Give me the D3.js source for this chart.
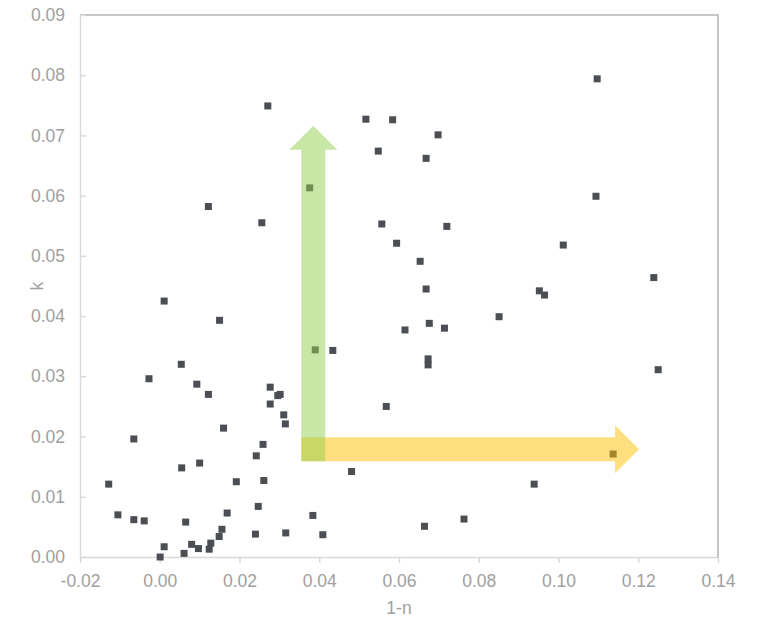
<!DOCTYPE html>
<html>
<head>
<meta charset="utf-8">
<script src="https://cdn.jsdelivr.net/npm/d3@7"></script>
<style>
  html, body { margin: 0; padding: 0; background: #ffffff; }
  svg { display: block; font-family: "Liberation Sans", Arial, sans-serif; }
</style>
</head>
<body>
<svg id="chart" width="762" height="617"></svg>
<script>
// 1-n (horizontal) and k (vertical) for each sample
const oneMinusN = [
  0.0271, 0.0517, 0.0584, 0.0548, 0.0376, 0.0122, 0.0256, 0.0557, 0.0594, 0.0011,
  0.1097, 0.0698, 0.0668, 0.1094, 0.0720, 0.1012, 0.0653, 0.1239, 0.0668, 0.0952,
  0.0965, 0.0150, 0.0390, 0.0434, 0.0054, -0.0027, 0.0093, 0.0122, 0.0277, 0.0296,
  0.0302, 0.0277, 0.0311, 0.0315, 0.0568, 0.0160, -0.0065, 0.0259, 0.0242, 0.0100,
  0.0055, 0.0481, 0.0192, 0.0261, -0.0128, 0.0247, 0.0169, -0.0105, 0.0384, -0.0065,
  -0.0039, 0.0065, 0.0156, 0.0149, 0.0240, 0.0316, 0.0409, 0.0128, 0.0080, 0.0097,
  0.0124, 0.0011, 0.0061, 0.0001, 0.0615, 0.0676, 0.0714, 0.0851, 0.0673, 0.0673,
  0.1250, 0.1137, 0.0939, 0.0763, 0.0664
];
const kValues = [
  0.0749, 0.0727, 0.0726, 0.0674, 0.0613, 0.0582, 0.0555, 0.0553, 0.0521, 0.0425,
  0.0794, 0.0701, 0.0662, 0.0599, 0.0549, 0.0518, 0.0491, 0.0464, 0.0445, 0.0442,
  0.0435, 0.0393, 0.0344, 0.0343, 0.0320, 0.0296, 0.0287, 0.0270, 0.0282, 0.0268,
  0.0270, 0.0254, 0.0236, 0.0221, 0.0250, 0.0214, 0.0196, 0.0187, 0.0168, 0.0156,
  0.0148, 0.0142, 0.0125, 0.0127, 0.0121, 0.0084, 0.0073, 0.0070, 0.0069, 0.0062,
  0.0060, 0.0058, 0.0046, 0.0034, 0.0038, 0.0040, 0.0037, 0.0023, 0.0021, 0.0014,
  0.0013, 0.0017, 0.0006, 0.0000, 0.0377, 0.0388, 0.0380, 0.0399, 0.0329, 0.0319,
  0.0311, 0.0171, 0.0121, 0.0063, 0.0051
];

const xTicks = [-0.02, 0.00, 0.02, 0.04, 0.06, 0.08, 0.10, 0.12, 0.14];
const yTicks = [0.00, 0.01, 0.02, 0.03, 0.04, 0.05, 0.06, 0.07, 0.08, 0.09];
const xTitle = "1-n";
const yTitle = "k";

// Direction arrows, in data units: vertical one along k, horizontal one along 1-n
const kArrow = { x: 0.0385, from: 0.0159, to: 0.0716 };
const nArrow = { y: 0.0179, from: 0.0355, to: 0.1202 };

const svg = d3.select("#chart");
const plotLeft = 80, plotRight = 718, plotTop = 15, plotBottom = 557;

const x = d3.scaleLinear().domain([-0.02, 0.14]).range([plotLeft, plotRight]);
const y = d3.scaleLinear().domain([0, 0.09]).range([plotBottom, plotTop]);

const locale = d3.formatLocale({ decimal: ".", thousands: ",", grouping: [3], currency: ["", ""], minus: "-" });
const fmt = locale.format(".2f");

const labelColor = "#a0a0a0";
const axisColor = "#d9d9d9";
const borderColor = "#b5b5b5";
const fontSize = "17.5px";

// plot area border (top and right edges)
svg.append("path")
  .attr("d", `M${plotLeft},${plotTop}H${plotRight}V${plotBottom}`)
  .attr("fill", "none")
  .attr("stroke", borderColor)
  .attr("stroke-width", 1.6);

// x axis
const gx = svg.append("g")
  .attr("transform", `translate(0,${plotBottom})`)
  .call(d3.axisBottom(x).tickValues(xTicks).tickFormat(fmt).tickSizeInner(6).tickSizeOuter(0).tickPadding(11.5));

// y axis, ticks pointing into the plot
const gy = svg.append("g")
  .attr("transform", `translate(${plotLeft},0)`)
  .call(d3.axisLeft(y).tickValues(yTicks).tickFormat(fmt).tickSizeInner(-6).tickSizeOuter(0).tickPadding(15));

[gx, gy].forEach(g => {
  g.select(".domain").attr("stroke", axisColor).attr("stroke-width", 1.4);
  g.selectAll(".tick line").attr("stroke", axisColor).attr("stroke-width", 1.4);
  g.selectAll(".tick text")
    .attr("fill", labelColor)
    .style("font-size", fontSize)
    .style("font-family", "'Liberation Sans', Arial, sans-serif");
});

// axis titles
svg.append("text")
  .attr("x", (plotLeft + plotRight) / 2)
  .attr("y", 614)
  .attr("text-anchor", "middle")
  .attr("fill", labelColor)
  .style("font-size", fontSize)
  .text(xTitle);

svg.append("text")
  .attr("transform", `translate(43,${(plotTop + plotBottom) / 2}) rotate(-90)`)
  .attr("text-anchor", "middle")
  .attr("fill", labelColor)
  .style("font-size", fontSize)
  .text(yTitle);

// scatter markers
const size = 7;
const pts = oneMinusN.map((v, i) => ({ n: v, k: kValues[i] }));
svg.append("g")
  .selectAll("rect")
  .data(pts)
  .join("rect")
  .attr("x", d => x(d.n) - size / 2)
  .attr("y", d => y(d.k) - size / 2)
  .attr("width", size)
  .attr("height", size)
  .attr("fill", "#4b4e53");

// block arrows: shaft half-width and head dimensions in pixels
const shaftHalf = 12, headHalf = 24, headLen = 24;

function hArrow(a) {
  const x0 = x(a.from), x1 = x(a.to), cy = y(a.y), xb = x1 - headLen;
  return `M${x0},${cy - shaftHalf}H${xb}V${cy - headHalf}L${x1},${cy}L${xb},${cy + headHalf}V${cy + shaftHalf}H${x0}Z`;
}
function vArrow(a) {
  const cx = x(a.x), y0 = y(a.from), y1 = y(a.to), yb = y1 + headLen;
  return `M${cx - shaftHalf},${y0}V${yb}H${cx - headHalf}L${cx},${y1}L${cx + headHalf},${yb}H${cx + shaftHalf}V${y0}Z`;
}

svg.append("path")
  .attr("d", hArrow(nArrow))
  .attr("fill", "#FFC000")
  .attr("fill-opacity", 0.5);

svg.append("path")
  .attr("d", vArrow(kArrow))
  .attr("fill", "#92D050")
  .attr("fill-opacity", 0.5);
</script>
</body>
</html>
